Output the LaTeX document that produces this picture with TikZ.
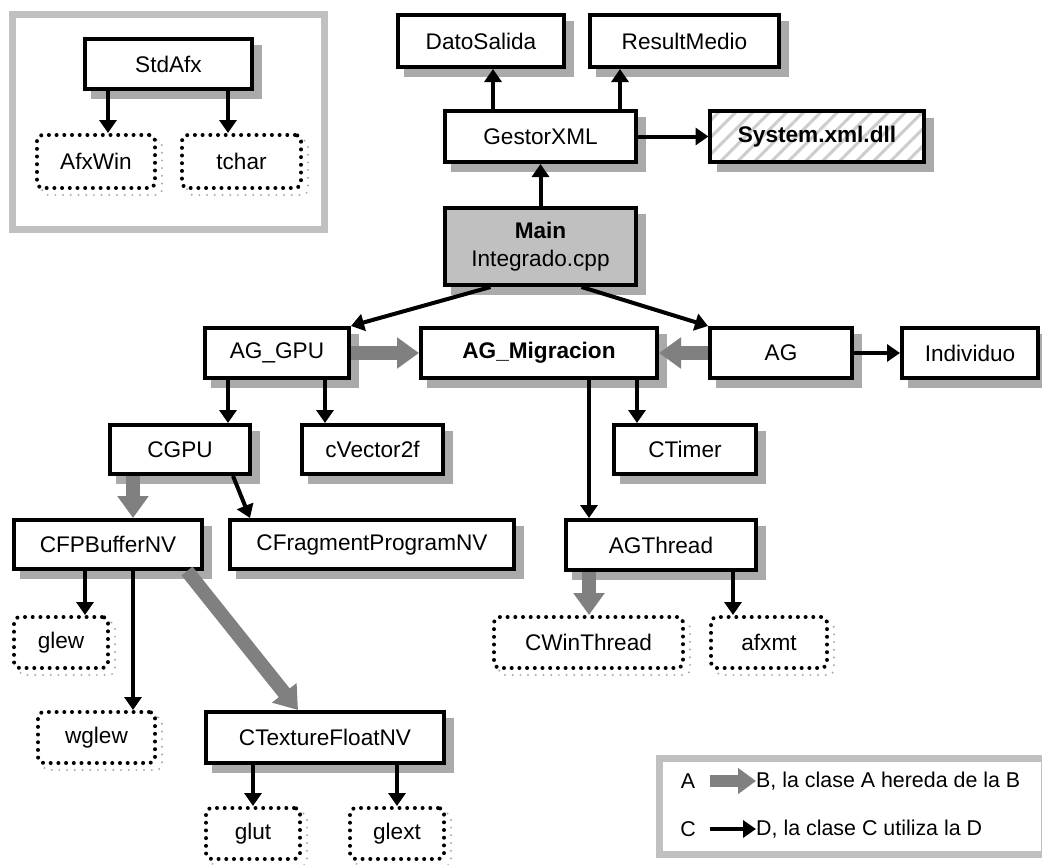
\documentclass[tikz,border=0pt]{standalone}
\usepackage{fontspec}
\setmainfont{Liberation Sans}
\usetikzlibrary{arrows.meta,patterns.meta}
\definecolor{framegray}{RGB}{192,192,192}
\definecolor{inhgray}{RGB}{128,128,128}
\definecolor{shadowgray}{RGB}{170,170,170}
\definecolor{maingray}{RGB}{192,192,192}
\definecolor{hatchgray}{RGB}{205,205,205}
\tikzset{
  every node/.style={font=\fontsize{22.6}{28}\selectfont},
  legtext/.style={font=\fontsize{21.4}{26}\selectfont},
  cls/.style={draw=black, line width=4pt, fill=white, inner sep=0pt},
  ext/.style={draw=black, line width=4pt, dash pattern=on 0pt off 7.7pt, line cap=round,
    rounded corners=6pt, fill=white, inner sep=0pt},
  clsshadow/.style={draw=shadowgray, line width=8pt, line join=miter},
  extshadow/.style={draw=shadowgray, line width=2.2pt, dash pattern=on 0pt off 7.7pt, line cap=round, rounded corners=6pt, inner sep=0pt},
  usearrow/.style={draw=black, line width=4pt, -{Triangle[length=13pt,width=17pt]}},
  inharrow/.style={draw=inhgray, line width=14pt, -{Triangle[length=22pt,width=30pt]}},
  leginh/.style={draw=inhgray, line width=12pt, -{Triangle[length=18pt,width=25pt]}},
  frm/.style={draw=framegray, line width=7pt},
}
% #1 extra style, #2 text, #3 name, #4 x, #5 y, #6 width, #7 height
\newcommand{\clsbox}[7][]{%
  \node[cls, minimum width=#6pt, minimum height=#7pt, #1] (#3) at (#4,#5) {#2};
  \draw[clsshadow] ([shift={(4pt,-8pt)}]#3.north east) -- ([shift={(4pt,-4pt)}]#3.south east) -- ([shift={(8pt,-4pt)}]#3.south west);}
\newcommand{\extbox}[6]{%
  \node[extshadow, minimum width=#5pt+2pt, minimum height=#6pt+2pt] (#2-sh) at (#3+6,#4+6) {};
  \node[ext, minimum width=#5pt, minimum height=#6pt] (#2) at (#3,#4) {#1};}
\begin{document}
\begin{tikzpicture}[x=1pt,y=-1pt]
\useasboundingbox (0,0) rectangle (1042,865);
% inset frame
\draw[frm] (12,14) rectangle (324,229);
% legend frame
\draw[frm] (659,758) rectangle (1044,854);

% nodes
\clsbox{StdAfx}{StdAfx}{168.5}{64}{167}{50}
\extbox{AfxWin}{AfxWin}{96}{161.5}{118}{53}
\extbox{tchar}{tchar}{241.5}{161.5}{119}{53}

\clsbox{DatoSalida}{Dato}{481}{41}{166}{52}
\clsbox{ResultMedio}{Result}{684.5}{41}{189}{52}
\clsbox{GestorXML}{Gestor}{540.5}{136.5}{191}{51}
\clsbox[fill=none, preaction={fill=white, draw=white}, pattern={Lines[angle=45,distance=12pt,line width=3pt]}, pattern color=hatchgray]{\textbf{System.xml.dll}}{System}{817}{136.5}{214}{51}
\clsbox[fill=maingray, align=center]{\textbf{Main}\\Integrado.cpp}{Main}{540.5}{246.5}{191}{77}

\clsbox{AG\_GPU}{AGGPU}{277}{353}{144}{50}
\clsbox{\textbf{AG\_Migracion}}{AGMig}{539}{353}{236}{50}
\clsbox{AG}{AG}{781}{353}{142}{50}
\clsbox{Individuo}{Indiv}{970}{353}{136}{50}

\clsbox{CGPU}{CGPU}{180}{449.5}{140}{49}
\clsbox{cVector2f}{cVec}{372.5}{449.5}{141}{49}
\clsbox{CTimer}{CTimer}{685}{449.5}{142}{49}

\clsbox{CFPBufferNV}{CFPB}{108}{544.5}{188}{49}
\clsbox{CFragmentProgramNV}{CFrag}{372}{544.5}{284}{49}
\clsbox{AGThread}{AGThread}{661}{545}{190}{50}

\extbox{glew}{glew}{61}{642.5}{94}{51}
\extbox{CWinThread}{CWin}{588.5}{642.5}{189}{51}
\extbox{afxmt}{afxmt}{769}{642.5}{116}{51}

\extbox{wglew}{wglew}{96.5}{737.5}{117}{51}
\clsbox{CTextureFloatNV}{CTex}{325}{737.5}{238}{51}

\extbox{glut}{glut}{253}{833.5}{94}{51}
\extbox{glext}{glext}{397}{833.5}{94}{51}

% legend
\node[legtext] (LA) at (688,781) {A};
\node[legtext] (LC) at (688,829) {C};
\node[legtext, anchor=west, inner sep=0pt] (LB) at (756,781) {B, la clase A hereda de la B};
\node[legtext, anchor=west, inner sep=0pt] (LD) at (756,829) {D, la clase C utiliza la D};
\draw[leginh] (710,781) -- (LB.west);
\draw[usearrow] (710,829) -- (LD.west);

% use connectors
\draw[usearrow] (StdAfx.south -| 108,0) -- (AfxWin.north -| 108,0);
\draw[usearrow] (StdAfx.south -| 228,0) -- (tchar.north -| 228,0);
\draw[usearrow] (Gestor.north -| 493,0) -- (Dato.south -| 493,0);
\draw[usearrow] (Gestor.north -| 620,0) -- (Result.south -| 620,0);
\draw[usearrow] (Main.north) -- (Gestor.south);
\draw[usearrow] (Gestor.east) -- (System.west);
\draw[usearrow] ([xshift=-50pt]Main.south) -- (AGGPU.north east);
\draw[usearrow] ([xshift=41pt]Main.south) -- (AG.north west);
\draw[usearrow] (AG.east) -- (Indiv.west);
\draw[usearrow] (AGGPU.south -| 228,0) -- (CGPU.north -| 228,0);
\draw[usearrow] (AGGPU.south -| 325,0) -- (cVec.north -| 325,0);
\draw[usearrow] (AGMig.south -| 637,0) -- (CTimer.north -| 637,0);
\draw[usearrow] (AGMig.south -| 589,0) -- (AGThread.north -| 589,0);
\draw[usearrow] (CGPU.south -| 233,0) -- (CFrag.north -| 250,0);
\draw[usearrow] (CFPB.south -| 85,0) -- (glew.north -| 85,0);
\draw[usearrow] (CFPB.south -| 133,0) -- (wglew.north -| 133,0);
\draw[usearrow] (CTex.south -| 253,0) -- (glut.north -| 253,0);
\draw[usearrow] (CTex.south -| 397,0) -- (glext.north -| 397,0);
\draw[usearrow] (AGThread.south -| 733,0) -- (afxmt.north -| 733,0);

% inheritance connectors
\draw[inharrow] (AGGPU.east) -- (AGMig.west);
\draw[inharrow] (AG.west) -- (AGMig.east);
\draw[inharrow] (CGPU.south -| 133,0) -- (CFPB.north -| 133,0);
\draw[inharrow] (CFPB.south -| 187,0) -- (CTex.north -| 298,0);
\draw[inharrow] (AGThread.south -| 589,0) -- (CWin.north -| 589,0);
\end{tikzpicture}
\end{document}
